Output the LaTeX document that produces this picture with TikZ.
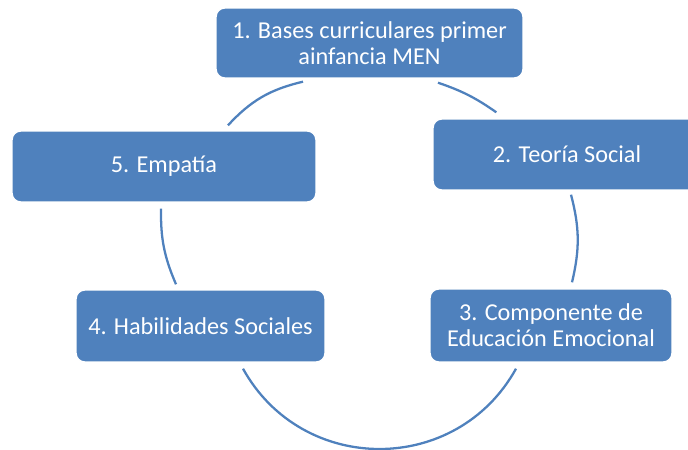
\documentclass[tikz,border=0pt]{standalone}
\usepackage{fontspec}
\setmainfont{Carlito}
\usetikzlibrary{calc}
\definecolor{boxblue}{RGB}{79,129,189}
\tikzstyle{box}=[rectangle,rounded corners=5pt,fill=boxblue,draw=white,line width=0.8pt,text=white,align=center,font=\fontsize{13.8}{14.8}\selectfont]
\tikzstyle{arc}=[draw=boxblue,line width=1.3pt]

\begin{document}
\begin{tikzpicture}[x=0.02cm,y=-0.02cm]
\useasboundingbox (0,0) rectangle (688,449);

\node (n1) at (369.5,43) [box,minimum width=6.14cm,minimum height=1.4cm] {1. Bases curriculares primer\\ainfancia MEN};
\node (n2) at (567,154.5) [box,minimum width=5.36cm,minimum height=1.42cm] {2. Teoría Social};
\node (n3) at (551,325.5) [box,minimum width=4.84cm,minimum height=1.46cm] {3. Componente de\\Educación Emocional};
\node (n4) at (200.5,326) [box,minimum width=4.98cm,minimum height=1.44cm] {4. Habilidades Sociales};
\node (n5) at (164,166.5) [box,minimum width=6.08cm,minimum height=1.42cm] {5. Empatía};

\draw[arc] ($(n1.south)+(68.5,4)$) to [bend left=8] ($(n2.north west)+(64,-6)$);
\draw[arc] ($(n2.south)+(4,4)$) to [bend left=14] ($(n3.north)+(21,-6)$);
\draw[arc] ($(n3.south)+(-35,6)$) to [bend left=61, looseness=1.15] ($(n4.south)+(42.5,6)$);
\draw[arc] ($(n4.north)+(-24.5,-5)$) to [bend left=12] ($(n5.south)+(-3,6)$);
\draw[arc] ($(n5.north)+(64,-5)$) to [bend left=17] ($(n1.south)+(-66.5,3)$);

\end{tikzpicture}
\end{document}
